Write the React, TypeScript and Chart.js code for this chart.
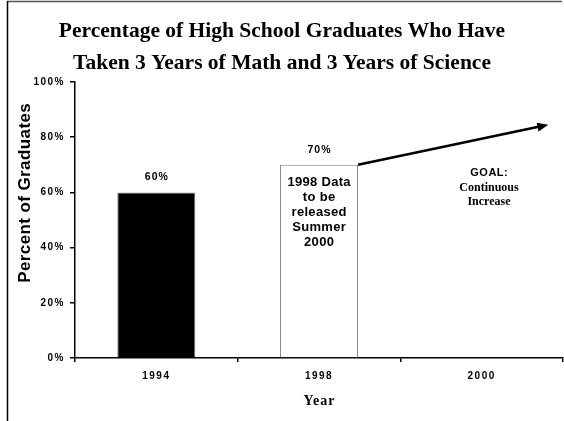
import React, { useEffect, useRef } from 'react';
import { Chart, registerables } from 'chart.js';

Chart.register(...registerables);

const categories = ['1994', '1998', '2000'];
const graduatePercents: (number | null)[] = [60, 70, null];
const barFills = ['#000000', '#ffffff', '#ffffff'];
const valueLabels = ['60%', '70%', ''];
const yTickValues = [0, 20, 40, 60, 80, 100];
const pendingNote = ['1998 Data', 'to be', 'released', 'Summer', '2000'];
const goalNote = ['GOAL:', 'Continuous', 'Increase'];
const goalTrendEndIndex = 2.41;
const goalTrendEndValue = 84.5;
const goalNoteIndex = 2.045;
const goalNoteValue = 67.2;
const titleLines = [
  'Percentage of High School Graduates Who Have',
  'Taken 3 Years of Math and 3 Years of Science',
];
const yTitle = 'Percent of Graduates';
const xTitle = 'Year';

const SANS = 'Arial, "Liberation Sans", sans-serif';
const SERIF = '"Times New Roman", "Liberation Serif", serif';

function drawText(
  ctx: CanvasRenderingContext2D,
  str: string,
  x: number,
  y: number,
  font: string,
  spacing: number,
  align: CanvasTextAlign = 'center',
) {
  ctx.font = font;
  (ctx as any).letterSpacing = spacing + 'px';
  ctx.textAlign = align;
  ctx.textBaseline = 'middle';
  ctx.fillStyle = '#000';
  const dx = align === 'center' ? spacing / 2 : align === 'right' ? spacing : 0;
  ctx.fillText(str, x + dx, y);
}

const decorPlugin = {
  id: 'decor',
  beforeDraw(chart: any) {
    (chart.ctx as any).letterSpacing = '1.5px';
  },
  afterDraw(chart: any) {
    const { ctx, chartArea, scales, width, height } = chart;
    const xs = scales.x;
    const ys = scales.y;
    ctx.save();

    // outer frame (top and left edges)
    ctx.lineWidth = 1.5;
    ctx.strokeStyle = '#555';
    ctx.beginPath();
    ctx.moveTo(7, 1.5);
    ctx.lineTo(width - 2, 1.5);
    ctx.stroke();
    ctx.strokeStyle = '#000';
    ctx.beginPath();
    ctx.moveTo(7.5, 1);
    ctx.lineTo(7.5, height);
    ctx.stroke();

    // title
    titleLines.forEach((line, i) => {
      drawText(ctx, line, width / 2, 31 + i * 32.5, `bold 21.5px ${SERIF}`, 0);
    });

    // y axis title
    ctx.save();
    ctx.translate(25, (chartArea.top + chartArea.bottom) / 2 - 27);
    ctx.rotate(-Math.PI / 2);
    drawText(ctx, yTitle, 0, 0, `bold 17px ${SANS}`, 0.4);
    ctx.restore();

    // x axis title
    drawText(ctx, xTitle, (chartArea.left + chartArea.right) / 2, 401, `bold 14px ${SERIF}`, 1);

    // value labels and bar note
    const meta = chart.getDatasetMeta(0);
    meta.data.forEach((el: any, i: number) => {
      if (graduatePercents[i] == null) return;
      const p = el.getProps(['x', 'y', 'width'], true);
      drawText(ctx, valueLabels[i], p.x, p.y - 15, `bold 10.5px ${SANS}`, 1);
      if (i === 1) {
        pendingNote.forEach((line, j) => {
          drawText(ctx, line, p.x, p.y + 18 + j * 15, `bold 13px ${SANS}`, 0.3);
        });
      }
    });

    // goal arrow
    const b = meta.data[1].getProps(['x', 'y', 'width'], true);
    const sx = b.x + b.width / 2;
    const sy = b.y;
    const ex = xs.getPixelForValue(goalTrendEndIndex);
    const ey = ys.getPixelForValue(goalTrendEndValue);
    const ang = Math.atan2(ey - sy, ex - sx);
    const headLen = 11;
    const headHalf = 4.5;
    ctx.strokeStyle = '#000';
    ctx.lineWidth = 2.5;
    ctx.beginPath();
    ctx.moveTo(sx, sy);
    ctx.lineTo(ex - Math.cos(ang) * (headLen - 1), ey - Math.sin(ang) * (headLen - 1));
    ctx.stroke();
    const bx = ex - Math.cos(ang) * headLen;
    const by = ey - Math.sin(ang) * headLen;
    ctx.fillStyle = '#000';
    ctx.beginPath();
    ctx.moveTo(ex, ey);
    ctx.lineTo(bx + Math.sin(ang) * headHalf, by - Math.cos(ang) * headHalf);
    ctx.lineTo(bx - Math.sin(ang) * headHalf, by + Math.cos(ang) * headHalf);
    ctx.closePath();
    ctx.fill();

    // goal note
    const gx = xs.getPixelForValue(goalNoteIndex);
    const gy = ys.getPixelForValue(goalNoteValue);
    drawText(ctx, goalNote[0], gx, gy, `bold 11px ${SANS}`, 0.5);
    drawText(ctx, goalNote[1], gx, gy + 15, `bold 12px ${SERIF}`, 0);
    drawText(ctx, goalNote[2], gx, gy + 29, `bold 12px ${SERIF}`, 0);

    ctx.restore();
    (ctx as any).letterSpacing = '0px';
  },
};

export default function App() {
  const canvasRef = useRef<HTMLCanvasElement | null>(null);

  useEffect(() => {
    const canvas = canvasRef.current;
    if (!canvas) return;
    const chart = new Chart(canvas, {
      type: 'bar',
      data: {
        labels: categories,
        datasets: [
          {
            data: graduatePercents,
            backgroundColor: barFills,
            borderColor: '#808080',
            borderWidth: 1,
            barPercentage: 0.48,
            categoryPercentage: 1,
          },
        ],
      },
      options: {
        responsive: false,
        animation: false,
        devicePixelRatio: 1,
        layout: { padding: { top: 82, right: 1, bottom: 0, left: 0 } },
        plugins: {
          legend: { display: false },
          title: { display: false },
          tooltip: { enabled: false },
        },
        scales: {
          x: {
            afterFit: (s: any) => {
              s.height = 63;
            },
            grid: {
              display: true,
              drawOnChartArea: false,
              drawTicks: true,
              tickLength: 4,
              color: '#000',
              lineWidth: 1.5,
              offset: true,
            },
            border: { display: true, color: '#000', width: 1.5 },
            ticks: {
              color: '#000',
              font: { family: SANS, size: 10, weight: 'bold' },
              padding: 8,
              maxRotation: 0,
              autoSkip: false,
            },
          },
          y: {
            min: 0,
            max: 100,
            afterFit: (s: any) => {
              s.width = 75;
            },
            afterBuildTicks: (s: any) => {
              s.ticks = yTickValues.map((v) => ({ value: v }));
            },
            grid: {
              display: true,
              drawOnChartArea: false,
              drawTicks: true,
              tickLength: 5,
              color: '#000',
              lineWidth: 1.5,
            },
            border: { display: true, color: '#000', width: 1.5 },
            ticks: {
              color: '#000',
              font: { family: SANS, size: 10, weight: 'bold' },
              padding: 5,
              callback: (v: any) => v + '%',
            },
          },
        },
      },
      plugins: [decorPlugin],
    });
    return () => chart.destroy();
  }, []);

  return (
    <div style={{ position: 'fixed', left: 0, top: 0, width: 564, height: 421, background: '#fff' }}>
      <canvas ref={canvasRef} width={564} height={421} style={{ display: 'block' }} />
    </div>
  );
}
